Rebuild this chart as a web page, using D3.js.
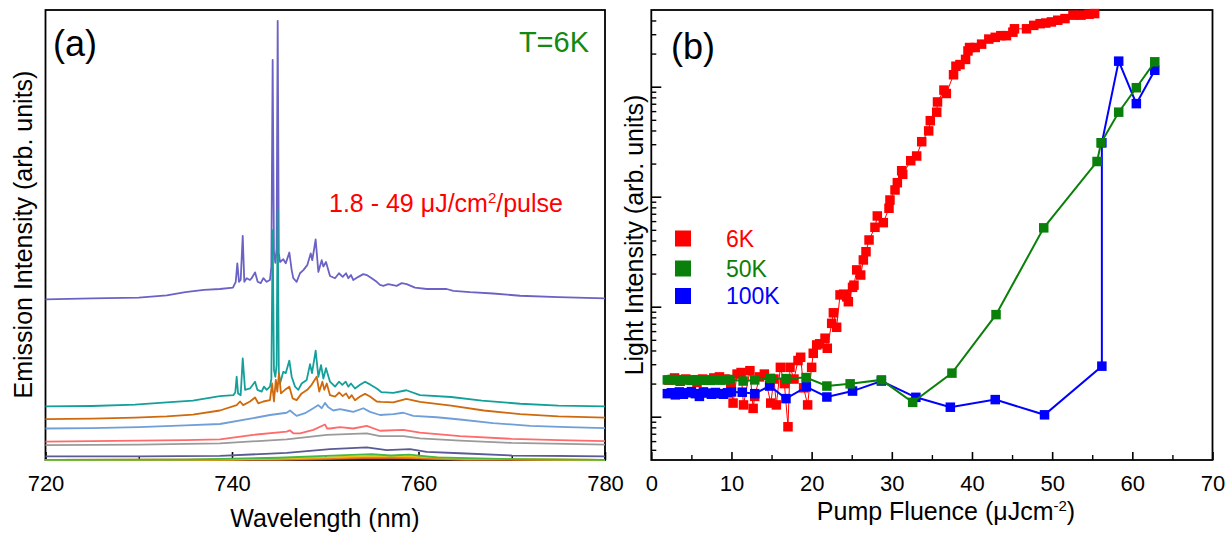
<!DOCTYPE html>
<html><head><meta charset="utf-8">
<script src="https://cdn.jsdelivr.net/npm/d3@7"></script>
<style>body{margin:0;background:#fff;} svg{display:block;font-family:"Liberation Sans",Arial,sans-serif;}</style>
</head><body><svg id="c" width="1232" height="533"></svg>
<script>
// ---------- Panel (a): emission spectra [wavelength nm, intensity arb.] ----------
const specTop = [[720,35.7],[725,35.9],[730,36.1],[733,36.6],[735,37.3],[737,37.8],[738.7,38.0],[740.1,38.3],[740.4,39.6],[740.57,43.7],[740.75,39.6],[740.93,40.0],[741.15,49.8],[741.32,39.6],[741.57,40.4],[741.93,40.0],[742.11,40.4],[742.47,41.7],[742.75,39.6],[743.08,39.3],[743.36,40.4],[743.72,39.6],[744.07,40.0],[744.22,43.0],[744.36,88.9],[744.5,46],[744.65,43.8],[744.78,47],[744.9,97.6],[745.02,46],[745.15,44.0],[745.5,44.6],[745.76,43.7],[746.15,46.1],[746.4,42.2],[746.57,40.4],[746.93,39.6],[747.29,41.5],[747.65,42.2],[748.07,43.3],[748.44,45.9],[748.61,44.4],[748.97,49.0],[749.26,41.8],[749.62,44.4],[749.8,43.0],[750.08,44.0],[750.51,40.9],[751.05,40.4],[751.47,41.5],[751.87,40.7],[752.23,41.5],[752.47,40.4],[752.76,41.1],[753.01,40.0],[753.55,40.7],[754.08,41.3],[754.45,41.1],[754.98,40.4],[755.52,39.6],[755.87,38.9],[756.22,38.7],[756.76,39.1],[757.66,38.7],[758.2,39.3],[758.73,39.1],[759.62,38.3],[760.88,38.0],[763.02,38.0],[763.73,37.6],[765.52,37.3],[768.0,37.0],[770.89,36.5],[775,36.2],[780,35.9]];
const specTeal = [[720,11.9],[725,12.0],[729.6,12.3],[733,12.8],[735.8,13.2],[738.7,14.2],[740.14,14.4],[740.35,15],[740.5,18.5],[740.65,14.8],[740.93,14.4],[741.15,22.6],[741.4,15.6],[741.93,15.9],[742.47,17.4],[742.72,15.6],[743.18,15.2],[743.43,16.3],[743.72,15.6],[744.07,16.3],[744.22,18],[744.36,51.1],[744.5,20],[744.65,18.5],[744.78,21],[744.9,55.6],[745.02,19.5],[745.15,17.0],[745.5,19.6],[745.76,19.3],[746.15,22.1],[746.4,18.5],[746.76,16.3],[747.11,15.6],[747.47,17.0],[748.01,17.8],[748.37,21.3],[748.58,19.3],[748.97,24.3],[749.26,18.5],[749.55,21.1],[749.8,18.1],[750.08,20.4],[750.51,17.4],[751.05,16.3],[751.47,17.4],[751.83,16.7],[752.19,17.4],[752.47,16.3],[752.76,17.0],[753.19,15.9],[753.73,16.7],[754.27,17.4],[754.8,16.8],[755.52,15.9],[756.0,15.1],[757.3,14.9],[758.7,15.5],[760.16,14.4],[763.5,14.0],[766.8,13.2],[770.9,12.5],[775,12.1],[780,11.9]];
const specOrange = [[720,9.1],[725,9.2],[729.6,9.4],[733,9.7],[735.8,10.1],[738.7,11.0],[740.5,12.2],[740.86,13.0],[741.2,12.2],[741.93,13.0],[742.47,13.9],[742.82,12.6],[743.36,13.0],[744.07,13.3],[744.3,17.0],[744.5,13.0],[744.7,17.8],[744.86,15.2],[745.04,19.3],[745.25,14.8],[745.68,15.6],[746.15,16.3],[746.5,13.7],[746.93,13.3],[747.47,14.8],[748.07,15.6],[748.54,16.7],[749.08,18.5],[749.36,15.2],[749.69,17.4],[749.9,15.6],[750.16,17.0],[750.51,14.4],[751.05,14.1],[751.5,15.0],[751.87,14.2],[752.23,14.8],[752.55,13.7],[752.84,14.4],[753.19,13.3],[753.73,14.1],[754.27,14.7],[754.8,14.1],[755.52,13.0],[756.0,12.9],[757.3,12.8],[758.7,13.6],[760.16,12.9],[763.5,12.1],[767,11.0],[770.9,10.2],[775,9.7],[780,9.4]];
const specLightBlue = [[720,7.0],[725,7.1],[730,7.3],[735,7.7],[738.7,8.0],[742.28,9.3],[744.07,10.0],[745.86,10.5],[746.22,11.0],[746.57,10.4],[746.93,9.8],[747.83,10.4],[748.72,11.5],[749.26,12.2],[749.62,11.5],[749.97,12.7],[750.33,11.7],[750.86,11.0],[751.58,11.3],[752.3,11.0],[753.01,10.7],[754.08,11.5],[754.8,10.7],[755.87,10.0],[757.3,10.2],[758.37,10.5],[759.44,9.8],[761.95,9.5],[764.45,9.0],[768,8.2],[772,7.6],[776,7.3],[780,7.1]];
const specPink = [[720,4.1],[730,4.3],[735,4.4],[738.71,4.6],[742.28,5.6],[745.86,6.3],[746.2,6.6],[746.6,5.9],[747.29,5.9],[748.72,6.7],[749.97,7.9],[750.2,7.0],[750.51,7.0],[751.58,7.3],[753.01,7.0],[754.45,7.6],[755.87,6.5],[758.37,6.7],[760.16,6.1],[764.45,5.3],[770,4.7],[775,4.4],[780,4.2]];
const specGray = [[720,3.3],[730,3.4],[738.71,3.7],[745.86,4.6],[750.16,5.6],[754.45,5.9],[755.87,5.3],[758.37,5.3],[760.16,4.8],[764.45,4.3],[770,3.8],[780,3.4]];
const specNavy = [[720,0.8],[730,0.8],[738.71,0.9],[745.86,1.6],[750.51,2.4],[754.45,2.8],[756.59,2.2],[759.08,2.4],[760.88,1.8],[764.45,1.5],[770,1.0],[780,0.8]];
const specRed0 = [[720,0],[748,0.1],[755,0.4],[759,0.35],[764,0.1],[780,0]];
const specOrange0 = [[720,0],[745,0.1],[755,0.6],[759,0.5],[765,0.1],[780,0]];
const specYellow0 = [[720,0],[740,0.1],[750,0.6],[755,0.9],[759,0.8],[765,0.3],[780,0]];
const specGreen0 = [[720,0.05],[735,0.1],[745,0.5],[750,0.9],[755,1.3],[757,1.0],[759,1.2],[762,0.6],[770,0.2],[780,0.05]];
const wavelengthTicks = [720,740,760,780];
const wavelengthMinor = [730,750,770];

// ---------- Panel (b): light intensity vs pump fluence ----------
const fluence6K = [2.2,2.9,3.6,4.3,5.0,5.7,6.4,7.1,7.8,8.5,9.2,9.9,10.2,10.7,11.2,11.5,12.3,12.7,12.9,13.5,14.1,14.9,15.3,15.6,16.1,16.6,17.05,17.3,17.8,18.3,18.63,19.0,19.5,20.0,20.2,20.63,21.0,21.67,21.95,22.5,22.71,23.12,23.54,24.0,24.37,24.58,25.1,25.28,25.62,26.12,26.45,26.78,27.16,27.9,28.19,28.94,29.65,29.77,30.4,30.69,31.23,31.36,32.36,33.1,33.73,34.6,34.8,35.6,35.7,36.5,36.8,37.7,38.0,38.5,39.2,39.5,39.7,40.4,41.2,42.1,42.9,43.6,44.3,45.1,45.3,46.8,47.7,48.5,49.2,49.9,50.7,51.6,52.6,53.6,54.6,55.3];
const intensity6K = [21.5,22.5,21,22,21.5,20.5,22,21.5,22.5,23,22,20,13.3,24.4,25.2,12.8,26.2,11.9,15.3,23,24.4,13.3,22,12.8,28.1,20,8.1,28.1,22,32.4,34.7,18.3,12.8,28.1,37.7,44.9,46,51.7,41.9,70.6,88,65,128,130,123,111,150,157,216,194,266,316,404,527,668,581,785,933,1151,1341,1722,1598,2123,2344,3162,3963,4909,5866,7264,9314,8674,12840,15350,15890,17700,21130,22700,22700,24370,27100,28100,29100,29100,31300,33600,33600,36100,37400,37900,38800,40200,41600,44700,44700,45600,46200];
const fluence50K = [2.0,2.6,3.2,3.8,4.4,5.0,5.6,6.2,6.8,7.4,8.0,8.6,9.2,9.8,11.45,12.9,14.86,16.8,19.3,21.9,24.8,28.7,32.6,37.5,43.0,48.95,55.6,56.1,58.3,60.5,62.8];
const intensity50K = [21.6,21.8,21.5,21.7,21.6,21.4,21.7,21.5,21.6,21.4,21.7,21.5,21.6,21.8,21.1,21.6,22.3,22.2,22.7,19.0,19.9,21.6,13.5,24.9,84.7,521,2089,3090,5866,9790,16830];
const fluence100K = [2.0,2.5,3.0,3.5,4.0,4.5,5.0,5.5,6.0,6.5,7.0,7.5,8.0,8.5,9.0,9.5,10.0,11.35,12.9,14.76,16.8,19.34,21.9,25.1,28.7,33.0,37.3,42.9,49.05,56.2,56.2,58.3,60.5,62.8];
const intensity100K = [16.2,16.5,15.8,16.8,16.0,16.5,16.9,16.2,15.3,16.8,16.4,16.0,16.6,16.2,16.0,16.5,16.8,16.7,16.2,19.0,14.6,18.7,15.1,17.1,21.1,15.0,12.2,14.3,10.4,28.8,3090,17070,7015,14100];
const fluenceTicks = [0,10,20,30,40,50,60,70];
const fluenceMinor = [5,15,25,35,45,55,65];
const seriesLabels = ["6K","50K","100K"];

// ---------- drawing ----------
const svg = d3.select("#c");
const FONT = '"Liberation Sans", Arial, sans-serif';

// Panel a
const xA = d3.scaleLinear().domain([720,780]).range([45.5,605]);
const yA = d3.scaleLinear().domain([0,100]).range([460,10]);
const gA = svg.append("g");
gA.append("rect").attr("x",45.5).attr("y",10).attr("width",605-45.5).attr("height",450)
  .attr("fill","none").attr("stroke","#000").attr("stroke-width",1.8);
const axA = gA.append("g").attr("transform","translate(0,460)")
  .call(d3.axisBottom(xA).tickValues(wavelengthTicks).tickSize(-8).tickPadding(15).tickFormat(d3.format("d")));
axA.select(".domain").remove();
axA.selectAll("line").attr("stroke","#000").attr("stroke-width",1.6);
axA.selectAll("text").attr("font-size",22).attr("font-family",FONT).attr("fill","#000");
const axAm = gA.append("g").attr("transform","translate(0,460)")
  .call(d3.axisBottom(xA).tickValues(wavelengthMinor).tickSize(-4).tickFormat(""));
axAm.select(".domain").remove();
axAm.selectAll("line").attr("stroke","#000").attr("stroke-width",1.4);

const lineA = d3.line().x(d=>xA(d[0])).y(d=>yA(d[1]));
const spectra = [specTop, specTeal, specOrange, specLightBlue, specPink, specGray, specNavy, specRed0, specOrange0, specYellow0, specGreen0];
const specColors = ["#6a62c4","#14a09a","#d0690c","#6f9fd8","#ff6a6a","#9a9a9a","#5a5a96","#c0392b","#e87e1e","#e6c21a","#45b845"];
spectra.forEach((s,i)=>{
  gA.append("path").datum(s).attr("d",lineA).attr("fill","none")
    .attr("stroke",specColors[i]).attr("stroke-width",1.8).attr("stroke-linejoin","round");
});

gA.append("text").attr("x",53).attr("y",55.5).attr("font-size",36).attr("font-family",FONT).text("(a)");
gA.append("text").attr("x",589).attr("y",52).attr("text-anchor","end").attr("font-size",29)
  .attr("font-family",FONT).attr("fill","#108a10").text("T=6K");
const tRed = gA.append("text").attr("x",329).attr("y",211.5).attr("font-size",25).attr("font-family",FONT).attr("fill","#ff0000");
tRed.append("tspan").text("1.8 - 49 \u03bcJ/cm");
tRed.append("tspan").attr("font-size",15).attr("dy",-9).text("2");
tRed.append("tspan").attr("dy",9).text("/pulse");
gA.append("text").attr("x",325).attr("y",527).attr("text-anchor","middle").attr("font-size",25)
  .attr("font-family",FONT).text("Wavelength (nm)");
gA.append("text").attr("transform","translate(32,234.5) rotate(-90)").attr("text-anchor","middle")
  .attr("font-size",25).attr("font-family",FONT).text("Emission Intensity (arb. units)");

// Panel b
const xB = d3.scaleLinear().domain([0,70]).range([651.3,1212.5]);
const yB = d3.scaleLog().domain([4.04,49800]).range([460,10]);
const gB = svg.append("g");
gB.append("rect").attr("x",651.3).attr("y",10).attr("width",1212.5-651.3).attr("height",450)
  .attr("fill","none").attr("stroke","#000").attr("stroke-width",1.8);
const axB = gB.append("g").attr("transform","translate(0,460)")
  .call(d3.axisBottom(xB).tickValues(fluenceTicks).tickSize(-8).tickPadding(15).tickFormat(d3.format("d")));
axB.select(".domain").remove();
axB.selectAll("line").attr("stroke","#000").attr("stroke-width",1.6);
axB.selectAll("text").attr("font-size",22).attr("font-family",FONT).attr("fill","#000");
const axBm = gB.append("g").attr("transform","translate(0,460)")
  .call(d3.axisBottom(xB).tickValues(fluenceMinor).tickSize(-5).tickFormat(""));
axBm.select(".domain").remove();
axBm.selectAll("line").attr("stroke","#000").attr("stroke-width",1.4);

const majorY = [10,100,1000,10000];
const minorY = yB.ticks().filter(v=>!majorY.includes(v) && v>yB.domain()[0] && v<yB.domain()[1]);
const ayM = gB.append("g").attr("transform","translate(651.3,0)")
  .call(d3.axisLeft(yB).tickValues(majorY).tickSize(-10).tickFormat(""));
ayM.select(".domain").remove();
ayM.selectAll("line").attr("stroke","#000").attr("stroke-width",1.6);
const aym = gB.append("g").attr("transform","translate(651.3,0)")
  .call(d3.axisLeft(yB).tickValues(minorY).tickSize(-5).tickFormat(""));
aym.select(".domain").remove();
aym.selectAll("line").attr("stroke","#000").attr("stroke-width",1.4);

const lineB = d3.line().x(d=>xB(d[0])).y(d=>yB(d[1]));
const series = [
  {f:fluence6K, v:intensity6K, c:"#ff0000", w:1},
  {f:fluence100K, v:intensity100K, c:"#0000ff", w:2},
  {f:fluence50K, v:intensity50K, c:"#0a800a", w:2}
];
const MS = 9.5;
series.forEach(s=>{
  const pts = s.f.map((f,i)=>[f,s.v[i]]);
  gB.append("path").datum(pts).attr("d",lineB).attr("fill","none").attr("stroke",s.c).attr("stroke-width",s.w);
  gB.selectAll(null).data(pts).enter().append("rect")
    .attr("x",d=>xB(d[0])-MS/2).attr("y",d=>yB(d[1])-MS/2).attr("width",MS).attr("height",MS).attr("fill",s.c);
});

// legend
const legColors = ["#ff0000","#0a800a","#0000ff"];
const legY = [238.5,268.5,296];
seriesLabels.forEach((lab,i)=>{
  gB.append("rect").attr("x",675).attr("y",legY[i]-8).attr("width",16).attr("height",16).attr("fill",legColors[i]);
  gB.append("text").attr("x",726).attr("y",legY[i]+8).attr("font-size",23).attr("font-family",FONT)
    .attr("fill",legColors[i]).text(lab);
});

gB.append("text").attr("x",671).attr("y",58.5).attr("font-size",36).attr("font-family",FONT).text("(b)");
const tX = gB.append("text").attr("x",946).attr("y",520).attr("text-anchor","middle").attr("font-size",25).attr("font-family",FONT);
tX.append("tspan").text("Pump Fluence (\u03bcJcm");
tX.append("tspan").attr("font-size",15).attr("dy",-9).text("-2");
tX.append("tspan").attr("dy",9).text(")");
gB.append("text").attr("transform","translate(643,235) rotate(-90)").attr("text-anchor","middle")
  .attr("font-size",25).attr("font-family",FONT).text("Light Intensity (arb. units)");
</script></body></html>
